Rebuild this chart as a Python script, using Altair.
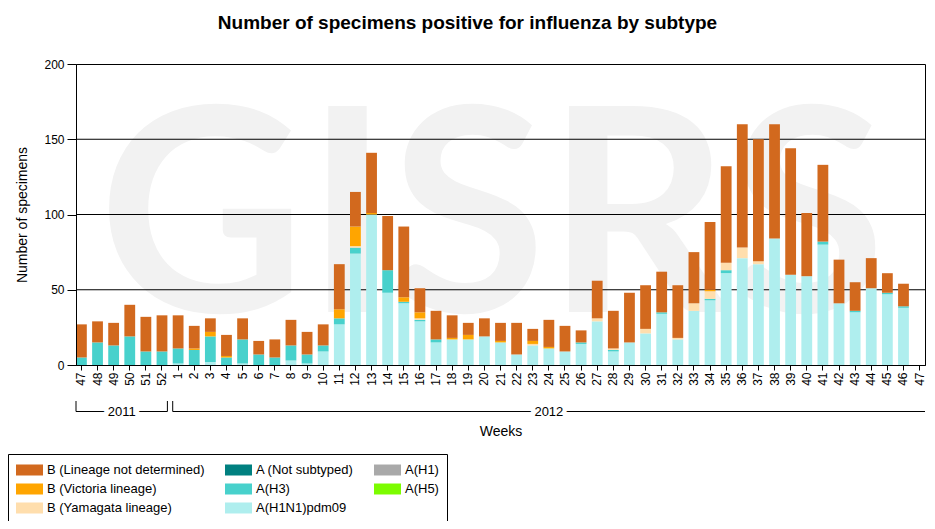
import altair as alt
import pandas as pd

# ---- categories (week keys / tick labels) ----
years_of_week = ["2011"] * 6 + ["2012"] * 47
week_numbers = [47, 48, 49, 50, 51, 52,
                1, 2, 3, 4, 5, 6, 7, 8, 9, 10, 11, 12, 13, 14, 15, 16, 17, 18, 19, 20,
                21, 22, 23, 24, 25, 26, 27, 28, 29, 30, 31, 32, 33, 34, 35, 36, 37, 38, 39, 40,
                41, 42, 43, 44, 45, 46, 47]

# ---- series values (number of specimens) ----
pdm09 = [0, 0, 0, 0, 0, 0,
         1, 0, 2, 0, 1, 0, 0, 3, 1, 9, 27, 74, 100, 48, 41, 29, 15, 17, 17, 19,
         15, 7, 13, 11, 9, 14, 29, 9, 15, 21, 34, 17, 36, 43, 61, 71, 67, 84, 60, 59,
         80, 41, 35, 51, 47, 38, 0]
h3 = [5, 15, 13, 19, 9, 9,
      10, 10, 17, 5, 16, 7, 5, 10, 6, 4, 4, 4, 0, 15, 1, 1, 2, 0, 0, 0,
      0, 0, 0, 0, 0, 1, 0, 1, 0, 0, 1, 0, 0, 1, 2, 0, 0, 0, 0, 0,
      2, 0, 1, 0, 1, 1, 0]
yamagata = [0, 0, 0, 0, 0, 0,
            0, 0, 0, 0, 0, 0, 0, 0, 0, 0, 0, 1, 0, 0, 0, 1, 0, 0, 0, 0,
            0, 0, 1, 0, 0, 0, 2, 1, 0, 3, 0, 1, 5, 5, 5, 7, 2, 0, 0, 0,
            0, 0, 0, 0, 0, 0, 0]
victoria = [0, 0, 0, 0, 0, 0,
            0, 1, 3, 1, 0, 0, 0, 0, 0, 0, 6, 13, 1, 0, 3, 4, 0, 1, 3, 0,
            1, 0, 2, 1, 0, 0, 0, 0, 0, 0, 0, 0, 0, 1, 0, 0, 0, 0, 0, 0,
            0, 0, 0, 0, 0, 0, 0]
b_lnd = [22, 14, 15, 21, 23, 24,
         22, 15, 9, 14, 14, 9, 12, 17, 15, 14, 30, 23, 40, 36, 47, 16, 19, 15, 8, 12,
         12, 21, 8, 18, 17, 8, 25, 25, 33, 29, 27, 35, 34, 45, 64, 82, 81, 76, 84, 42,
         51, 29, 19, 20, 13, 15, 0]
zeros = [0] * 53
not_subtyped = zeros
h1 = zeros
h5 = zeros

# series: name, values (stacking rank = list position, bottom first)
series_names = ["A(H1N1)pdm09", "A(H1)", "A(H3)", "A (Not subtyped)", "A(H5)",
                "B (Yamagata lineage)", "B (Victoria lineage)", "B (Lineage not determined)"]
series_values = [pdm09, h1, h3, not_subtyped, h5, yamagata, victoria, b_lnd]

# legend order (filled column by column, three per column)
legend_order = ["B (Lineage not determined)", "B (Victoria lineage)", "B (Yamagata lineage)",
                "A (Not subtyped)", "A(H3)", "A(H1N1)pdm09",
                "A(H1)", "A(H5)"]
legend_colors = ["#D2691E", "#FFA500", "#FFDEAD",
                 "#008080", "#48D1CC", "#AFEEEE",
                 "#A9A9A9", "#7CFC00"]

y_ticks = [0, 50, 100, 150, 200]
grid_values = [50, 100, 150]

bracket_years = ["2011", "2012"]
bracket_start = ["2011-47", "2012-1"]
bracket_end = ["2011-52", "2012-47"]
bracket_closed = [True, False]

# ---- tables ----
keys = [f"{y}-{w}" for y, w in zip(years_of_week, week_numbers)]
rows = []
for rank, (name, vals) in enumerate(zip(series_names, series_values)):
    for k, v in zip(keys, vals):
        rows.append({"key": k, "series": name, "value": v, "rank": rank})
df = pd.DataFrame(rows)
grid_df = pd.DataFrame({"v": grid_values})
br_df = pd.DataFrame({"year": bracket_years, "start": bracket_start,
                      "end": bracket_end, "closed": bracket_closed})
wm_df = pd.DataFrame({"t": ["GISRS"]})

FONT = "Liberation Sans"
XT = "Weeks"
YT = "Number of specimens"
xscale = alt.Scale(domain=keys, paddingInner=0.33, paddingOuter=0)
yscale = alt.Scale(domain=[0, 200], nice=False)

watermark = alt.Chart(wm_df).mark_text(
    font="Lato", fontWeight="bold", fontSize=285,
    color="#f2f2f2", align="center", baseline="alphabetic"
).encode(text="t:N", x=alt.value(416), y=alt.value(248))

grid = alt.Chart(grid_df).mark_rule(color="black", strokeWidth=1).encode(
    y=alt.Y("v:Q", scale=yscale, title=YT)
)

bars = alt.Chart(df).mark_bar(strokeWidth=0).encode(
    x=alt.X("key:N", scale=xscale, sort=keys, title=XT,
            axis=alt.Axis(labelExpr="split(datum.value, '-')[1]", labelAngle=270,
                          labelFontSize=12, labelColor="black", labelFont=FONT,
                          labelPadding=2, tickSize=5, tickColor="black",
                          domainColor="black", titleFontSize=14, titleFont=FONT,
                          titleFontWeight="normal", titleColor="black",
                          titleY=66, titleBaseline="middle", zindex=1)),
    y=alt.Y("value:Q", stack="zero", scale=yscale, title=YT,
            axis=alt.Axis(values=y_ticks, grid=False, labelFontSize=12,
                          labelColor="black", labelFont=FONT, labelPadding=3,
                          tickSize=9, tickColor="black", domainColor="black",
                          titleFontSize=14, titleFont=FONT, titleFontWeight="normal",
                          titleColor="black", titleAngle=270, titleX=-54, titleY=150.5,
                          titleAlign="center", titleBaseline="middle", zindex=1)),
    color=alt.Color("series:N",
                    scale=alt.Scale(domain=legend_order, range=legend_colors),
                    legend=alt.Legend(orient="none", legendX=-68, legendY=390,
                                      columns=3, title=None, strokeColor="black",
                                      padding=8, fillColor="white",
                                      symbolType="M-1,-0.407H1V0.407H-1Z",
                                      symbolSize=729, symbolStrokeWidth=0,
                                      symbolOpacity=1, labelFontSize=13,
                                      labelFont=FONT, labelColor="black",
                                      labelOffset=4, labelLimit=0,
                                      clipHeight=16,
                                      columnPadding=20, rowPadding=3)),
    order=alt.Order("rank:Q", sort="ascending"),
)

bracket_line = alt.Chart(br_df).mark_rule(color="black", strokeWidth=1).encode(
    x=alt.X("start:N", scale=xscale, sort=keys, bandPosition=0, title=XT),
    x2=alt.X2("end:N", bandPosition=1, title=XT),
    y=alt.value(347.5),
)
bracket_start_tick = alt.Chart(br_df).mark_rule(color="black", strokeWidth=1).encode(
    x=alt.X("start:N", scale=xscale, sort=keys, bandPosition=0, title=XT),
    y=alt.value(337), y2=alt.value(347.5),
)
bracket_end_tick = alt.Chart(br_df).transform_filter("datum.closed").mark_rule(
    color="black", strokeWidth=1).encode(
    x=alt.X("end:N", scale=xscale, sort=keys, bandPosition=1, title=XT),
    y=alt.value(337), y2=alt.value(347.5),
)
mid_expr = "(scale('x', datum.start) + scale('x', datum.end) + bandwidth('x')) / 2"
bracket_halo = alt.Chart(br_df).mark_text(
    font=FONT, fontSize=13, color="white", stroke="white", strokeWidth=8,
    baseline="middle", align="center", x=alt.ExprRef(mid_expr), y=347.5
).encode(text="year:N")
bracket_text = alt.Chart(br_df).mark_text(
    font=FONT, fontSize=13, color="black",
    baseline="middle", align="center", x=alt.ExprRef(mid_expr), y=347.5
).encode(text="year:N")

chart = alt.layer(
    watermark, grid, bars, bracket_line, bracket_start_tick, bracket_end_tick,
    bracket_halo, bracket_text
).properties(
    width=849, height=301,
    autosize=alt.AutoSizeParams(type="none"),
    padding={"left": 68, "top": 56, "right": 2, "bottom": 156},
    title=alt.Title("Number of specimens positive for influenza by subtype",
                    font=FONT, fontSize=19, fontWeight="bold", color="black",
                    anchor="middle", frame="group", dx=-33, offset=25),
).configure(font=FONT, background="white").configure_view(
    stroke="black", strokeWidth=1
)

chart.save("out.html", embed_options={"renderer": "svg", "actions": False})
